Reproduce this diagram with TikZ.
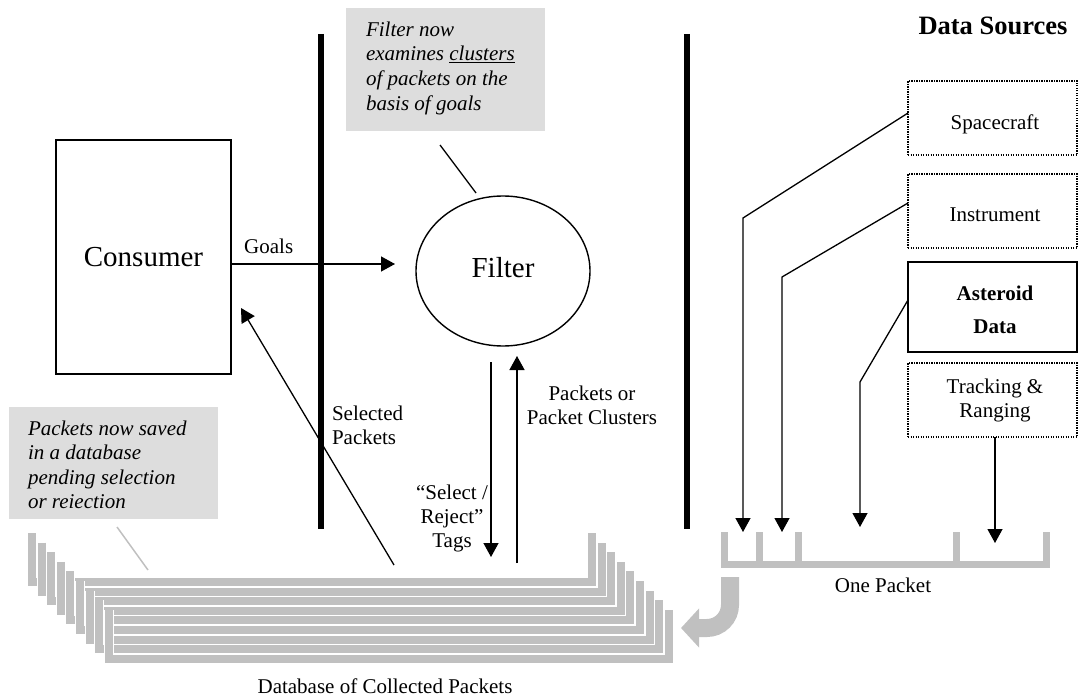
\documentclass[tikz,border=0pt]{standalone}
\usepackage{fontspec}
\setmainfont{Liberation Serif}
\usetikzlibrary{arrows.meta,shapes.geometric}
\definecolor{notegray}{HTML}{DDDDDD}
\definecolor{pktgray}{HTML}{C0C0C0}
\begin{document}
\begin{tikzpicture}[x=1pt,y=-1pt,
  every node/.style={inner sep=0pt, outer sep=0pt},
  txt/.style={font=\fontsize{21}{24.5}\selectfont},
  bigtxt/.style={font=\fontsize{29}{34}\selectfont},
  notebox/.style={fill=notegray, draw=none},
  wall/.style={line width=6pt},
  conn/.style={line width=1.3pt, -{Triangle[length=14pt,width=15pt]}},
  plainline/.style={line width=1.3pt},
  srcbox/.style={draw, line width=1.2pt, dash pattern=on 1.2pt off 1.3pt, minimum width=169pt, minimum height=74pt},
  solidbox/.style={draw, line width=1.5pt, minimum width=169pt, minimum height=90pt},
  pkt/.style={draw=pktgray, line width=7pt},
  stackline/.style={draw=pktgray, line width=8pt},
  stackedge/.style={draw=white, line width=10pt},
  bigarrow/.style={draw=pktgray, line width=18pt, rounded corners=23pt, -{Triangle[length=18pt,width=38pt]}},
]
\useasboundingbox (0,0) rectangle (1080,698);

% walls
\coordinate (w1t) at (321,34); \coordinate (w1b) at (321,529);
\coordinate (w2t) at (687,34); \coordinate (w2b) at (687,529);
\draw[wall] (w1t) -- (w1b);
\draw[wall] (w2t) -- (w2b);

% filter note
\node[notebox, minimum width=199pt, minimum height=123pt, anchor=north west] (fnote) at (346,8) {};
\node[txt, anchor=north west, align=left, font=\fontsize{21}{24.7}\selectfont\itshape] (fnotetext) at (366,21.7)
  {Filter now\\examines \underline{clusters}\\of packets on the\\basis of goals};

% filter
\node[draw, ellipse, line width=1.4pt, minimum width=174pt, minimum height=150pt, bigtxt, text depth=8pt] (filter) at (503,271) {Filter};
\coordinate (fnotetail) at (440,145);
\coordinate (fnotehead) at (476,193);
\draw[plainline] (fnotetail) -- (fnotehead);

% consumer
\node[draw, line width=1.3pt, minimum width=175pt, minimum height=234pt, bigtxt] (consumer) at (143.5,257) {Consumer};
\coordinate (goalsend) at (395,264);
\draw[conn] ([yshift=-7pt]consumer.east) -- node[txt, anchor=base, pos=0.23, yshift=11pt] (goals) {Goals} (goalsend);

% selected packets
\coordinate (selstart) at (394,565);
\coordinate (selend) at (241,308);
\draw[conn] (selstart) -- (selend);
\node[txt, anchor=north west, align=left] (seltext) at (332,405.7) {Selected\\Packets};

% tags / packets arrows
\coordinate (tagstart) at (491,362); \coordinate (tagend) at (491,557);
\coordinate (pkstart) at (517,563); \coordinate (pkend) at (517,356);
\draw[conn] (tagstart) -- (tagend);
\draw[conn] (pkstart) -- (pkend);
\node[txt, anchor=north, align=center, font=\fontsize{21}{24}\selectfont] (tagtext) at (452,484.7) {“Select /\\Reject”\\Tags};
\node[txt, anchor=north, align=center] (pktext) at (592,385.7) {Packets or\\Packet Clusters};

% packets note
\node[notebox, minimum width=209pt, minimum height=112pt, anchor=north west] (pnote) at (9,407) {};
\node[txt, anchor=north west, align=left, font=\fontsize{21}{24.4}\selectfont\itshape] (pnotetext) at (28,420.7)
  {Packets now saved\\in a database\\pending selection\\or reiection};
\coordinate (pnotetail) at (117,527);
\coordinate (pnotehead) at (148,570);
\draw[pktgray, line width=1.5pt] (pnotetail) -- (pnotehead);

% database stack
\foreach \i in {0,...,8} {
  \draw[stackedge] (32+9.6*\i, 533+9.6*\i) -- ++(0,49) -- ++(560,0) -- ++(0,-49);
  \draw[stackline] (32+9.6*\i, 533+9.6*\i) -- ++(0,49) -- ++(560,0) -- ++(0,-49);
}
\coordinate (db) at (385,620);
\node[txt, anchor=base] (dbtext) at (385,693.5) {Database of Collected Packets};

% one packet
\draw[pkt] (724.5,532) -- (724.5,564.5) -- (1046.5,564.5) -- (1046.5,532);
\draw[pkt] (759.5,532) -- (759.5,561);
\draw[pkt] (798.5,532) -- (798.5,561);
\draw[pkt] (956,532) -- (956,561);
\node[txt, anchor=base] (onepacket) at (883,592) {One Packet};
\coordinate (pk1) at (743,532);
\coordinate (pk2) at (782,532);
\coordinate (pk3) at (860,527);
\coordinate (pk4) at (995,543);

% curved arrow packet -> database
\coordinate (carrstart) at (730,577);
\coordinate (carrend) at (681,628);
\draw[bigarrow] (carrstart) |- (carrend);

% data sources
\node[font=\fontsize{26.5}{30}\selectfont\bfseries, anchor=base] (dstitle) at (993,35) {Data Sources};
\node[srcbox] (spacecraft) at (992.5,118) {};
\node[srcbox] (instrument) at (992.5,211) {};
\node[solidbox] (asteroid) at (992.5,307) {};
\node[srcbox] (tracking) at (992.5,400) {};
\node[txt, anchor=base] (spacecrafttext) at (995,130) {Spacecraft};
\node[txt, anchor=base] (instrumenttext) at (995,222) {Instrument};
\node[txt, anchor=north, align=center, font=\fontsize{21}{33}\selectfont\bfseries] (asteroidtext) at (995,286) {Asteroid\\Data};
\node[txt, anchor=north, align=center, font=\fontsize{21}{24}\selectfont] (trackingtext) at (995,378.7) {Tracking \&\\Ranging};

\draw[conn] ([yshift=5pt]spacecraft.west) -- (743,218) -- (pk1);
\draw[conn] ([yshift=8pt]instrument.west) -- (782,277) -- (pk2);
\draw[conn] ([yshift=7pt]asteroid.west) -- (860,382) -- (pk3);
\draw[conn] ([xshift=2.5pt]tracking.south) -- (pk4);
\end{tikzpicture}
\end{document}
